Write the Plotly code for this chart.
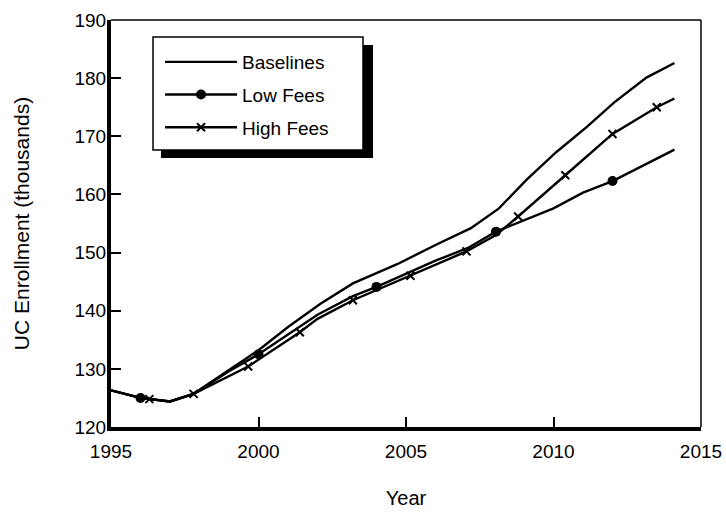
import plotly.graph_objects as go

# ---------------- data ----------------
baseline_years = [1995.0, 1996.0, 1997.0, 1997.8, 1999.0, 2000.0, 2001.0, 2002.1,
                  2003.2, 2004.7, 2006.0, 2007.2, 2008.15, 2009.1, 2010.1, 2011.15,
                  2012.05, 2013.15, 2014.1]
baseline_vals = [126.3, 125.0, 124.4, 125.7, 129.8, 133.2, 137.2, 141.2,
                 144.7, 148.0, 151.3, 154.2, 157.6, 162.6, 167.3, 171.7,
                 175.8, 180.1, 182.6]

low_years = [1995.0, 1996.0, 1997.0, 1997.8, 1999.0, 2000.0, 2002.0, 2003.2,
             2004.0, 2005.1, 2006.0, 2007.1, 2008.05, 2010.0, 2011.0, 2012.0, 2014.1]
low_vals = [126.3, 125.0, 124.4, 125.7, 129.6, 132.5, 139.3, 142.5,
            144.1, 146.6, 148.6, 150.8, 153.6, 157.6, 160.3, 162.3, 167.7]
low_marked = [0, 1, 0, 0, 0, 1, 0, 0, 1, 0, 0, 0, 1, 0, 0, 1, 0]

high_years = [1995.0, 1996.0, 1996.3, 1997.0, 1997.8, 1999.65, 2001.4, 2002.0,
              2003.2, 2005.15, 2007.05, 2008.05, 2008.8, 2010.4, 2012.0, 2013.5, 2014.1]
high_vals = [126.3, 125.0, 124.8, 124.4, 125.7, 130.4, 136.3, 138.6,
             141.8, 146.0, 150.2, 153.0, 156.2, 163.3, 170.4, 175.0, 176.5]
high_marked = [0, 0, 1, 0, 1, 1, 1, 0, 1, 1, 1, 0, 1, 1, 1, 1, 0]

series_names = ["Baselines", "Low Fees", "High Fees"]
x_ticks = [1995, 2000, 2005, 2010, 2015]
y_ticks = [120, 130, 140, 150, 160, 170, 180, 190]

# ---------------- styles ----------------
FONT = "Liberation Sans, Arial, Helvetica, sans-serif"
LINE_W = 2.4
dot_marker = dict(symbol="circle", size=10, color="black")
x_marker = dict(symbol="x-thin", size=8, color="black", line=dict(width=2, color="black"))

fig = go.Figure()

def pick(vals, flags):
    return [v for v, f in zip(vals, flags) if f]

# Baselines
fig.add_trace(go.Scatter(x=baseline_years, y=baseline_vals, mode="lines",
                         line=dict(color="black", width=LINE_W),
                         legendgroup="b", showlegend=False, hoverinfo="skip"))
# Low fees
fig.add_trace(go.Scatter(x=low_years, y=low_vals, mode="lines",
                         line=dict(color="black", width=LINE_W),
                         legendgroup="l", showlegend=False, hoverinfo="skip"))
fig.add_trace(go.Scatter(x=pick(low_years, low_marked), y=pick(low_vals, low_marked),
                         mode="markers", marker=dot_marker,
                         legendgroup="l", showlegend=False))
# High fees
fig.add_trace(go.Scatter(x=high_years, y=high_vals, mode="lines",
                         line=dict(color="black", width=LINE_W),
                         legendgroup="h", showlegend=False, hoverinfo="skip"))
fig.add_trace(go.Scatter(x=pick(high_years, high_marked), y=pick(high_vals, high_marked),
                         mode="markers", marker=x_marker,
                         legendgroup="h", showlegend=False))

# legend entries
fig.add_trace(go.Scatter(x=[None], y=[None], mode="lines", name=series_names[0],
                         line=dict(color="black", width=LINE_W), legendgroup="b"))
fig.add_trace(go.Scatter(x=[None], y=[None], mode="lines+markers", name=series_names[1],
                         line=dict(color="black", width=LINE_W), marker=dot_marker,
                         legendgroup="l"))
fig.add_trace(go.Scatter(x=[None], y=[None], mode="lines+markers", name=series_names[2],
                         line=dict(color="black", width=LINE_W), marker=x_marker,
                         legendgroup="h"))

axis_common = dict(showgrid=False, zeroline=False, showline=True, linecolor="black",
                   linewidth=4, ticks="inside", ticklen=10, tickwidth=1.5,
                   tickcolor="black", automargin=False,
                   tickfont=dict(family=FONT, size=19, color="black"))

fig.update_layout(
    width=726, height=514,
    margin=dict(l=111, r=25, t=20, b=87, autoexpand=False),
    paper_bgcolor="white", plot_bgcolor="white",
    font=dict(family=FONT, color="black"),
    xaxis=dict(range=[1995, 2015], tickvals=x_ticks, **axis_common, ticklabelstandoff=4,
               title=dict(text="Year", font=dict(family=FONT, size=20), standoff=31)),
    yaxis=dict(range=[120, 190], tickvals=y_ticks, **axis_common, ticklabelstandoff=-3,
               title=dict(text="UC Enrollment (thousands)", font=dict(family=FONT, size=21),
                          standoff=40)),
    legend=dict(x=0.0831, y=0.9435, xanchor="left", yanchor="top",
                bgcolor="rgba(0,0,0,0)", borderwidth=0,
                font=dict(family=FONT, size=19, color="black"),
                itemwidth=72, tracegroupgap=5, traceorder="grouped"),
    shapes=[
        # thin top and right frame
        dict(type="line", xref="paper", yref="paper", x0=0, x1=1, y0=1, y1=1,
             line=dict(color="black", width=1.5)),
        dict(type="line", xref="paper", yref="paper", x0=1, x1=1, y0=0, y1=1,
             line=dict(color="black", width=1.5)),
        # legend drop shadow and box (legend items are drawn on top)
        dict(type="rect", xref="paper", yref="paper", x0=0.0847, x1=0.4441, y0=0.6609, y1=0.9386,
             fillcolor="black", line=dict(width=0), layer="above"),
        dict(type="rect", xref="paper", yref="paper", x0=0.0712, x1=0.4271, y0=0.6806, y1=0.9582,
             fillcolor="white", line=dict(color="black", width=1.5), layer="above"),
    ],
)

fig.write_html("out.html", config={"displayModeBar": False},
               post_script="document.body.style.margin='0';document.body.style.overflow='hidden';")
